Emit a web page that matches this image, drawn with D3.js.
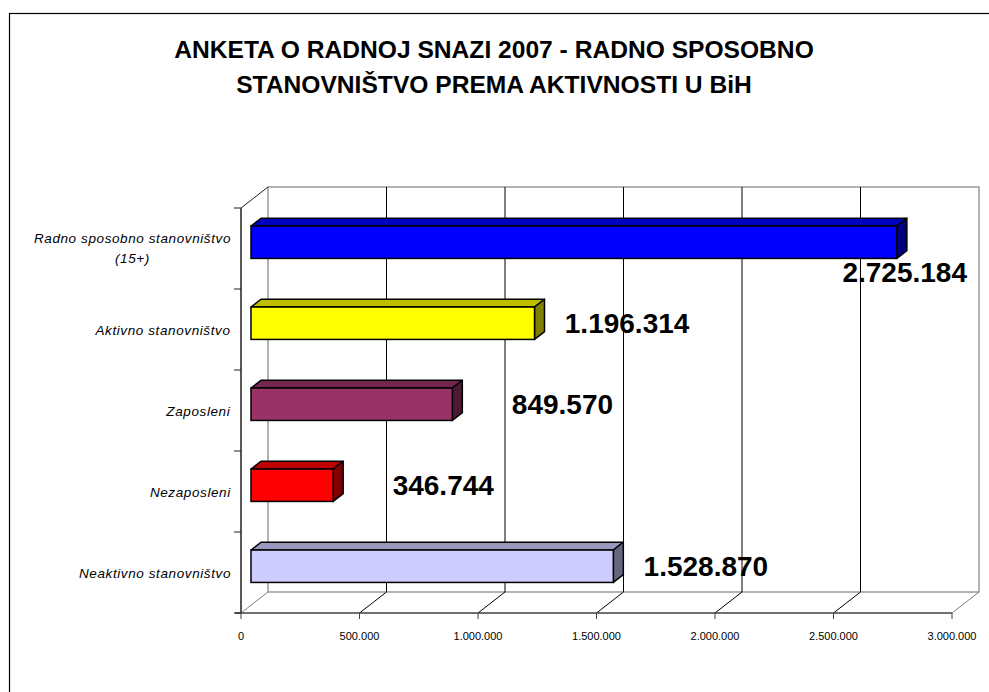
<!DOCTYPE html>
<html><head><meta charset="utf-8">
<script src="https://cdn.jsdelivr.net/npm/d3@7"></script>
<style>body{margin:0;background:#fff}svg{display:block}text{font-family:Arial,"Liberation Sans",sans-serif}</style>
</head><body><svg id="c" width="989" height="692"></svg>
<script>
const titleLines = ["ANKETA O RADNOJ SNAZI 2007 - RADNO SPOSOBNO", "STANOVNIŠTVO PREMA AKTIVNOSTI U BiH"];
const categories = [["Radno sposobno stanovništvo", "(15+)"], ["Aktivno stanovništvo"], ["Zaposleni"], ["Nezaposleni"], ["Neaktivno stanovništvo"]];
const values = [2725184, 1196314, 849570, 346744, 1528870];
const colors = ["#0000FF", "#FFFF00", "#993366", "#FF0000", "#CCCCFF"];
const xTicks = [0, 500000, 1000000, 1500000, 2000000, 2500000, 3000000];

(function () {
const svg = d3.select("#c");
const fmt = v => d3.format(",")(v).replace(/,/g, ".");
const shade = (c, k) => { const r = d3.rgb(c); return d3.rgb(r.r * k, r.g * k, r.b * k).formatHex(); };

// frame
svg.append("rect").attr("x", 9.5).attr("y", 13.5).attr("width", 1000).attr("height", 700)
  .attr("fill", "#fff").attr("stroke", "#000").attr("stroke-width", 1.2);

// title
svg.append("g").selectAll("text").data(titleLines).join("text")
  .attr("x", 494).attr("y", (d, i) => 58 + i * 35).attr("text-anchor", "middle")
  .attr("font-weight", "bold").attr("font-size", 24.6).text(d => d);

const x = d3.scaleLinear().domain([0, 3000000]).range([241, 952]);
const y = d3.scaleBand().domain(d3.range(categories.length)).range([208, 613]);
const D = [27, -21]; // depth vector
const proj = (px, py, z) => [px + z * D[0], py + z * D[1]];

const g = svg.append("g");
const yBot = 613, yTop = 208;
// back wall
const bw0 = proj(x(0), yTop, 1), bw1 = proj(x(3000000), yBot, 1);
g.append("rect").attr("x", bw0[0]).attr("y", bw0[1]).attr("width", bw1[0] - bw0[0]).attr("height", bw1[1] - bw0[1])
  .attr("fill", "none").attr("stroke", "#808080").attr("stroke-width", 1.2);
// gridlines on back wall + floor
xTicks.forEach((t, i) => {
  const b0 = proj(x(t), yTop, 1), b1 = proj(x(t), yBot, 1);
  const edge = i === 0 || i === xTicks.length - 1;
  if (!edge) g.append("line").attr("x1", b0[0]).attr("y1", b0[1]).attr("x2", b1[0]).attr("y2", b1[1]).attr("stroke", "#000").attr("stroke-width", 1);
  g.append("line").attr("x1", x(t)).attr("y1", yBot).attr("x2", b1[0]).attr("y2", b1[1])
    .attr("stroke", edge ? "#808080" : "#000").attr("stroke-width", 1);
  g.append("line").attr("x1", x(t)).attr("y1", yBot).attr("x2", x(t)).attr("y2", yBot + 6).attr("stroke", "#404040");
  g.append("text").attr("x", x(t)).attr("y", yBot + 27).attr("text-anchor", "middle")
    .attr("font-size", 11).text(fmt(t));
});
// left wall top diagonal
const lt = proj(x(0), yTop, 1);
g.append("line").attr("x1", x(0)).attr("y1", yTop).attr("x2", lt[0]).attr("y2", lt[1]).attr("stroke", "#202020");
// axes
g.append("line").attr("x1", x(0)).attr("y1", yTop).attr("x2", x(0)).attr("y2", yBot).attr("stroke", "#202020").attr("stroke-width", 1.5);
g.append("line").attr("x1", x(0) - 6).attr("y1", yBot).attr("x2", x(3000000)).attr("y2", yBot).attr("stroke", "#404040").attr("stroke-width", 1.5);
d3.range(categories.length + 1).forEach(i => {
  const yy = 208 + i * y.step();
  g.append("line").attr("x1", x(0) - 7).attr("x2", x(0)).attr("y1", yy).attr("y2", yy).attr("stroke", "#202020");
});

// category labels
categories.forEach((lines, i) => {
  const cy = y(i) + y.bandwidth() / 2;
  const t = g.append("text").attr("font-style", "italic").attr("font-size", 13.5)
    .attr("letter-spacing", 0.6).attr("text-anchor", "middle");
  const n = lines.length;
  lines.forEach((l, j) => t.append("tspan").attr("x", 0)
    .attr("y", n > 1 ? cy - 5.5 + j * 20 : cy + 5).text(l));
  const bb = t.node().getBBox();
  t.attr("transform", `translate(${231 - bb.width / 2},0)`);
});

// bars
const zf = 0.37, zb = 0.74, th = y.bandwidth() * 0.4;
categories.forEach((c, i) => {
  const v = values[i], col = colors[i];
  const cy = y(i) + y.bandwidth() / 2 + 1.5;
  const y0 = cy - th / 2, y1 = cy + th / 2;
  const f00 = proj(x(0), y0, zf), f11 = proj(x(v), y1, zf);
  const b00 = proj(x(0), y0, zb), b10 = proj(x(v), y0, zb), b11 = proj(x(v), y1, zb);
  const f10 = proj(x(v), y0, zf);
  const stroke = "#000", sw = 1.5;
  g.append("polygon").attr("points", [f00, b00, b10, f10].map(p => p.join(",")).join(" "))
    .attr("fill", shade(col, 0.75)).attr("stroke", stroke).attr("stroke-width", sw).attr("stroke-linejoin", "round");
  g.append("polygon").attr("points", [f10, b10, b11, f11].map(p => p.join(",")).join(" "))
    .attr("fill", shade(col, 0.5)).attr("stroke", stroke).attr("stroke-width", sw).attr("stroke-linejoin", "round");
  g.append("rect").attr("x", f00[0]).attr("y", f00[1]).attr("width", f11[0] - f00[0]).attr("height", f11[1] - f00[1])
    .attr("fill", col).attr("stroke", stroke).attr("stroke-width", sw);
  // value label
  const fc = (f00[1] + f11[1]) / 2;
  const lab = g.append("text").attr("font-weight", "bold").attr("font-size", 28).attr("y", fc + 10).text(fmt(v));
  const w = lab.node().getComputedTextLength();
  let lx = f11[0] + 186 - 1.25 * w;
  const maxRight = 967;
  if (lx + w > maxRight) { lx = maxRight - w; lab.attr("y", fc + 40); }
  lab.attr("x", lx);
});
})();
</script></body></html>
